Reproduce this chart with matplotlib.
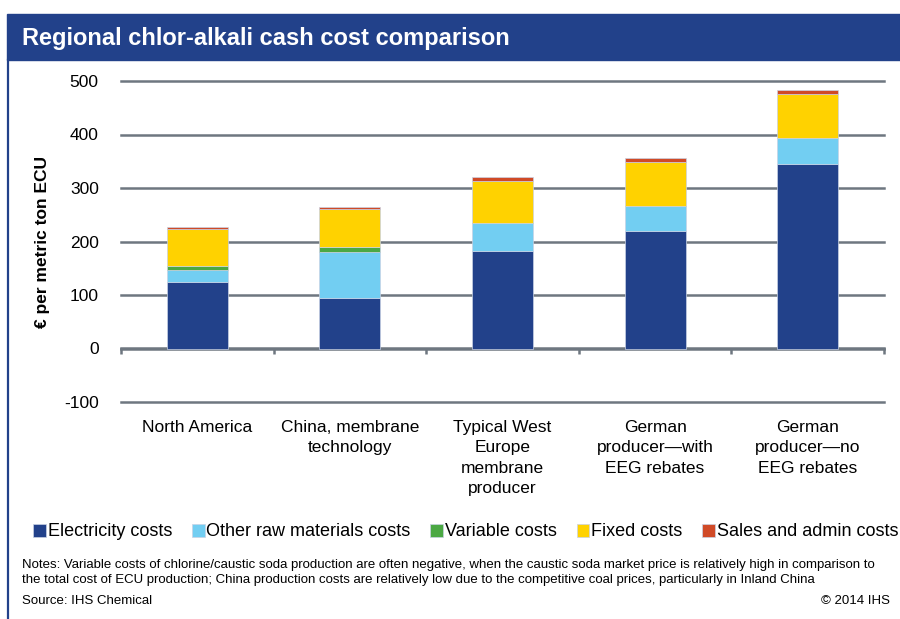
import numpy as np
import matplotlib
matplotlib.use("Agg")
import matplotlib.pyplot as plt
from matplotlib.patches import Rectangle
from matplotlib.lines import Line2D

plt.rcParams['font.family'] = ['Liberation Sans', 'DejaVu Sans']
plt.rcParams['axes.unicode_minus'] = False

# data (EUR per metric ton ECU)
categories = ["North America", "China, membrane\ntechnology",
              "Typical West\nEurope\nmembrane\nproducer",
              "German\nproducer\u2014with\nEEG rebates",
              "German\nproducer\u2014no\nEEG rebates"]
electricity = [124, 94, 182, 219, 345]
other_raw = [23, 86, 52, 48, 49]
variable = [7, 10, 0, 0, 0]
fixed = [70, 71, 79, 82, 82]
sales_admin = [4, 4, 7, 7, 7]

series_names = ["Electricity costs", "Other raw materials costs", "Variable costs",
                "Fixed costs", "Sales and admin costs"]
colors = ["#22418A", "#72CEF2", "#4BA843", "#FFD200", "#D04A27"]

fig = plt.figure(figsize=(9, 6.19), dpi=100)

# title banner and left frame line
fig.patches.append(Rectangle((7 / 900, 1 - 60 / 619), 1 - 7 / 900, 46 / 619,
                             transform=fig.transFigure, color="#22418A", zorder=0))
fig.lines.append(Line2D([8 / 900, 8 / 900], [0, 1 - 60 / 619], transform=fig.transFigure,
                        color="#22418A", lw=1.6))
fig.text(22 / 900, 1 - 38 / 619, "Regional chlor-alkali cash cost comparison",
         color="white", fontsize=17, fontweight="bold", va="center", ha="left")

ax = fig.add_axes([121 / 900, 1 - 402 / 619, 763 / 900, 321 / 619])

x = np.arange(len(categories))
bottom = np.zeros(len(categories))
for vals, name, c in zip([electricity, other_raw, variable, fixed, sales_admin],
                         series_names, colors):
    ax.bar(x, vals, 0.4, bottom=bottom, color=c, label=name,
           edgecolor="#C9D2E4", linewidth=0.5, zorder=3)
    bottom += np.array(vals)

ax.set_xlim(-0.5, len(categories) - 0.5)
ax.set_ylim(-100, 500)
ax.set_yticks(np.arange(-100, 501, 100))
ax.yaxis.grid(True, color="#6E7780", lw=1.8, zorder=0)
for gl in ax.get_ygridlines():
    gl.set_clip_on(False)
for s in ax.spines.values():
    s.set_visible(False)
ax.tick_params(axis="y", length=0, pad=16, labelsize=12.5)
ax.set_xticks(x)
ax.set_xticklabels(categories, fontsize=12.5, linespacing=1.45)
ax.tick_params(axis="x", length=0, pad=13)
ax.set_ylabel("\u20ac per metric ton ECU", fontsize=12.5, fontweight="bold", labelpad=10)

# zero axis line with category boundary ticks
zero_ax = ax.secondary_xaxis(1 / 6)
zero_ax.set_xticks(np.arange(-0.5, len(categories), 1.0))
zero_ax.set_xticklabels([])
zero_ax.tick_params(direction="out", length=4, width=1.8, color="#6E7780")
zero_ax.spines["bottom"].set_color("#6E7780")
zero_ax.spines["bottom"].set_linewidth(1.8)

handles, labels = ax.get_legend_handles_labels()
fig.legend(handles, labels, loc="center left", bbox_to_anchor=(26 / 900, 1 - 532 / 619),
           ncol=5, frameon=False, fontsize=13, handlelength=0.7, handleheight=0.7,
           handletextpad=0.1, columnspacing=1.1, borderaxespad=0)

notes = ("Notes: Variable costs of chlorine/caustic soda production are often negative, when the caustic soda "
         "market price is relatively high in comparison to\nthe total cost of ECU production; China production "
         "costs are relatively low due to the competitive coal prices, particularly in Inland China")
fig.text(22 / 900, 1 - 559 / 619, notes, fontsize=9.5, va="top", ha="left", linespacing=1.3)
fig.text(22 / 900, 1 - 601 / 619, "Source: IHS Chemical", fontsize=9.5, va="center", ha="left")
fig.text(890 / 900, 1 - 601 / 619, "\u00a9 2014 IHS", fontsize=9.5, va="center", ha="right")

fig.savefig("out.png", dpi=100)
